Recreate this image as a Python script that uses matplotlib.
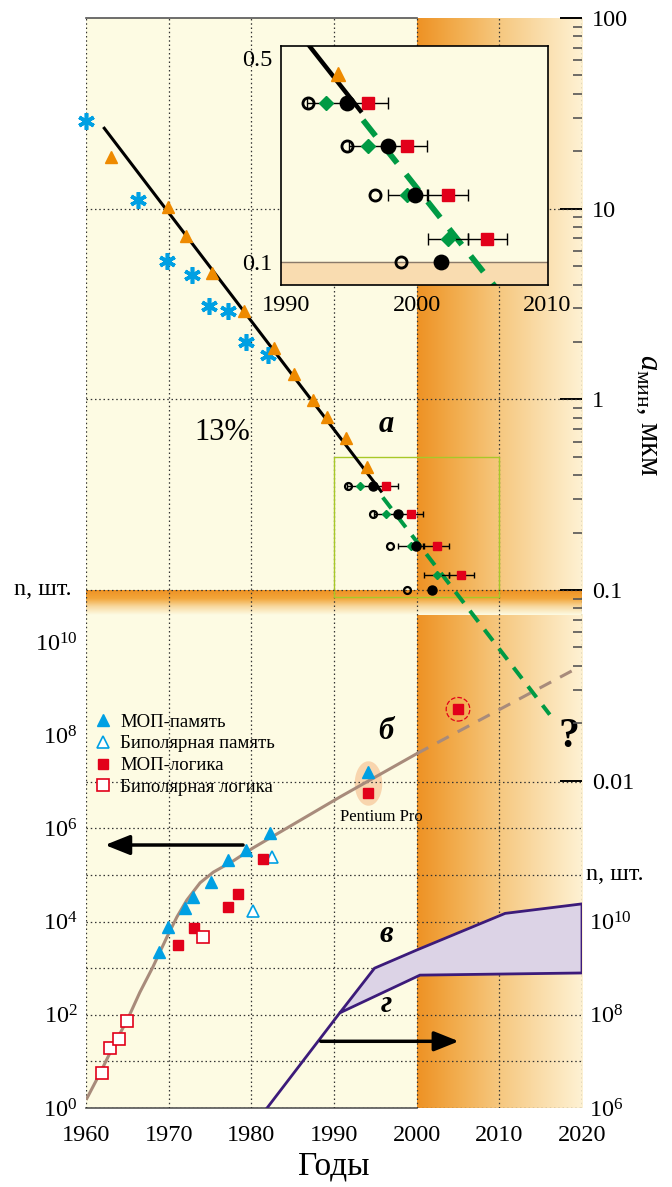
import numpy as np
import matplotlib
matplotlib.use("Agg")
import matplotlib.pyplot as plt
from matplotlib.colors import LinearSegmentedColormap
from matplotlib.patches import Rectangle
from matplotlib.path import Path
from matplotlib.ticker import NullFormatter, NullLocator

plt.rcParams["font.family"] = ["Liberation Serif", "DejaVu Serif"]
plt.rcParams["mathtext.fontset"] = "custom"
plt.rcParams["mathtext.rm"] = "Liberation Serif"
plt.rcParams["mathtext.it"] = "Liberation Serif:italic"
plt.rcParams["mathtext.bf"] = "Liberation Serif:bold"

# ---- (а) минимальный размер элемента, мкм ----
ast_years = [1960.0, 1966.3, 1969.8, 1972.8, 1974.9, 1977.2, 1979.3, 1982.0]
ast_size = [28.8, 11.1, 5.3, 4.5, 3.1, 2.9, 2.0, 1.7]
tri_years = [1963.0, 1969.9, 1972.1, 1975.2, 1979.1, 1982.7, 1985.2,
             1987.4, 1989.1, 1991.4, 1994.0]
tri_size = [18.7, 10.2, 7.2, 4.6, 2.9, 1.86, 1.36, 0.99, 0.81, 0.63, 0.44]
trend_years = [1962.1, 1995.8]
trend_size = [26.8, 0.325]
forecast_years = [1995.9, 2016.1]
forecast_size = [0.306, 0.0222]

open_years = [1991.7, 1994.7, 1996.8, 1998.8]
open_size = [0.35, 0.25, 0.17, 0.10]
diam_years = [1993.1, 1996.3, 1999.3, 2002.4]
diam_size = [0.35, 0.25, 0.17, 0.12]
dot_years = [1994.7, 1997.8, 1999.9, 2001.9]
dot_size = [0.35, 0.25, 0.17, 0.10]
sq_years = [1996.3, 1999.3, 2002.4, 2005.4]
sq_size = [0.35, 0.25, 0.17, 0.12]
year_err = 1.5

# ---- (б) число элементов на кристалле ----
mos_mem_years = [1968.8, 1969.9, 1972.0, 1972.9, 1975.1, 1977.2, 1979.3, 1982.2, 1994.1]
mos_mem_n = [2230, 7600, 19600, 33600, 71000, 2.1e5, 3.4e5, 8.0e5, 1.6e7]
bip_mem_years = [1980.2, 1982.5]
bip_mem_n = [1.7e4, 2.4e5]
mos_log_years = [1971.1, 1973.1, 1977.2, 1978.4, 1981.4, 1994.1, 2005.0]
mos_log_n = [3150, 7300, 20500, 39000, 2.2e5, 5.7e6, 3.6e8]
bip_log_years = [1961.9, 1962.9, 1964.0, 1964.9, 1974.1]
bip_log_n = [5.6, 19.5, 30, 74, 4700]
pentium_year = 1994.1
future_idx = 6

curve_years = [1960.1, 1961.7, 1963.5, 1965.0, 1966.5, 1968.1, 1969.8, 1971.0,
               1972.2, 1973.8, 1975.4, 1977.8, 1980.2, 1990.7, 2000.0]
curve_n = [1.6, 5.6, 25, 78, 300, 1070, 4700, 12600, 29000, 68000, 115000,
           2.0e5, 3.8e5, 4.7e6, 4.0e7]
curve_fc_years = [2000.0, 2019.4]
curve_fc_n = [4.0e7, 2.75e9]

# ---- (в, г) ----
rise_years = [1981.9, 1990.7]
rise_n = [1.0e6, 1.1e8]
upper_years = [1990.7, 1994.9, 2000.0, 2010.7, 2020.0]
upper_n = [1.1e8, 1.0e9, 2.45e9, 1.5e10, 2.4e10]
lower_years = [1990.7, 2000.4, 2020.0]
lower_n = [1.1e8, 7.1e8, 7.9e8]

BG = "#FDFBE3"
BLUE = "#00A0E3"
RED = "#E2001A"
ORANGE = "#EE8A00"
GREEN = "#009A44"
TAN = "#A88B7B"
PURPLE = "#3C1B7A"
DOT = (0, (1.2, 2.2))


def draw_nodes(ax, k):
    ax.errorbar(diam_years, diam_size, xerr=year_err, fmt="none", ecolor="k",
                elinewidth=1, capsize=2.5 * k, zorder=3)
    ax.errorbar(sq_years, sq_size, xerr=year_err, fmt="none", ecolor="k",
                elinewidth=1, capsize=2.5 * k, zorder=3)
    ax.plot(open_years, open_size, "o", ls="none", mfc="none", mec="k",
            ms=5 * k, mew=1.6 * k ** 0.5, zorder=4)
    ax.plot(diam_years, diam_size, "D", ls="none", color=GREEN, ms=4.5 * k, zorder=4)
    ax.plot(dot_years, dot_size, "o", ls="none", color="k", ms=6.5 * k, zorder=5)
    ax.plot(sq_years, sq_size, "s", ls="none", color=RED, ms=5.5 * k, zorder=5)


def draw_trend(ax, lw):
    ax.plot(trend_years, trend_size, color="k", lw=lw, solid_capstyle="butt", zorder=2)
    ax.plot(forecast_years, forecast_size, color=GREEN, lw=lw * 1.3,
            dashes=(3.5, 2.5), zorder=2)


fig = plt.figure(figsize=(6.72, 11.87), dpi=100)
rect = [86 / 672, 79 / 1187, 496 / 672, 1090 / 1187]

# фон
ax_bg = fig.add_axes(rect)
ax_bg.set_facecolor(BG)
band = LinearSegmentedColormap.from_list(
    "band", ["#EE9224", "#F2AE50", "#F6C880", "#FADDAA", "#FEF2D4"])
hband = LinearSegmentedColormap.from_list("hband", [BG, "#F8D9A0", "#F2A63A", "#EE9224"])
grad = np.linspace(0, 1, 256)[None, :]
ax_bg.imshow(grad, cmap=band, extent=[2000, 2020, 0, 0.4523], aspect="auto")
ax_bg.imshow(grad, cmap=band, extent=[2000, 2020, 0.4752, 1], aspect="auto")
ax_bg.imshow(np.linspace(0, 1, 64)[:, None], cmap=hband, origin="lower",
             extent=[1960, 2020, 0.4523, 0.4752], aspect="auto")
ax_bg.plot([1960, 2000], [1, 1], color="#555", lw=1.2, clip_on=False)
ax_bg.plot([1960, 2000], [0, 0], color="#555", lw=1.2, clip_on=False)
ax_bg.set_xlim(1960, 2020)
ax_bg.set_ylim(0, 1)
ax_bg.set_xticks([])
ax_bg.set_yticks([])
for s in ax_bg.spines.values():
    s.set_visible(False)

# (б) левая ось
ax_b = fig.add_axes(rect)
ax_b.patch.set_visible(False)
ax_b.set_yscale("log")
ax_b.set_xlim(1960, 2020)
ax_b.set_ylim(1, 10 ** 23.39)
for s in ax_b.spines.values():
    s.set_visible(False)
ax_b.set_xticks(range(1960, 2021, 10))
ax_b.grid(axis="x", color="#333", ls=DOT, lw=0.9)
ax_b.set_yticks([1, 1e2, 1e4, 1e6, 1e8, 1e10],
                labels=[r"$10^{0}$", r"$10^{2}$", r"$10^{4}$", r"$10^{6}$",
                        r"$10^{8}$", r"$10^{10}$"])
ax_b.yaxis.set_minor_locator(NullLocator())
ax_b.tick_params(axis="x", length=0, pad=12, labelsize=17.5)
ax_b.tick_params(axis="y", length=0, pad=6, labelsize=17.5)
ax_b.hlines([1, 10, 1e2, 1e3, 1e4, 1e5, 1e6, 1e7], 1960, 2020, color="#333", ls=DOT, lw=0.9)
ax_b.set_xlabel("Годы", fontsize=24, labelpad=4)

ellipse = Path(np.column_stack([0.62 * np.cos(np.linspace(0, 2 * np.pi, 60)),
                                np.sin(np.linspace(0, 2 * np.pi, 60))]))
ax_b.plot([pentium_year], [np.sqrt(mos_mem_n[-1] * mos_log_n[-2])], marker=ellipse,
          ms=32, color="#F8D5AE", mec="none", zorder=1)
ax_b.plot(curve_years, curve_n, color=TAN, lw=2.2, zorder=2)
ax_b.plot(curve_fc_years, curve_fc_n, color=TAN, lw=2.2, dashes=(4.3, 3.3), zorder=2)
ax_b.plot(mos_mem_years, mos_mem_n, "^", ls="none", color=BLUE, ms=9, label="МОП-память", zorder=3)
ax_b.plot(bip_mem_years, bip_mem_n, "^", ls="none", mfc="white", mec=BLUE, mew=1.2, ms=9,
          label="Биполярная память", zorder=3)
ax_b.plot(mos_log_years, mos_log_n, "s", ls="none", color=RED, ms=7.5, label="МОП-логика", zorder=3)
ax_b.plot(bip_log_years, bip_log_n, "s", ls="none", mfc="white", mec=RED, mew=1.2, ms=8,
          label="Биполярная логика", zorder=3)
ax_b.scatter([mos_log_years[future_idx]], [mos_log_n[future_idx]], s=17 ** 2, facecolors="none",
             edgecolors=RED, linestyle="--", linewidths=0.9, zorder=3)
ax_b.annotate("", xy=(1962.3, 4.4e5), xytext=(1979.0, 4.4e5),
              arrowprops=dict(arrowstyle="-|>,head_length=0.75,head_width=0.3", lw=2.5,
                              color="k", mutation_scale=20, shrinkA=0, shrinkB=0))
ax_b.legend(loc="upper left", bbox_to_anchor=(0.02, 0.362), frameon=False, fontsize=13.5,
            handlelength=0.8, handletextpad=0.5, labelspacing=0.25, borderpad=0,
            borderaxespad=0, numpoints=1)

# (в, г) правая нижняя ось
ax_c = fig.add_axes(rect)
ax_c.patch.set_visible(False)
ax_c.set_yscale("log")
ax_c.set_xlim(1960, 2020)
ax_c.set_ylim(1e6, 1e6 * 10 ** 23.39)
for s in ax_c.spines.values():
    s.set_visible(False)
ax_c.set_xticks([])
ax_c.yaxis.tick_right()
ax_c.set_yticks([1e6, 1e8, 1e10], labels=[r"$10^{6}$", r"$10^{8}$", r"$10^{10}$"])
ax_c.yaxis.set_minor_locator(NullLocator())
ax_c.tick_params(axis="y", length=0, pad=5, labelsize=17.5)
ax_c.fill(upper_years + lower_years[::-1], upper_n + lower_n[::-1],
          facecolor="#DCD3E6", edgecolor=PURPLE, lw=2, zorder=2)
ax_c.plot(rise_years, rise_n, color=PURPLE, lw=2, zorder=2)
ax_c.annotate("", xy=(2005.1, 2.7e7), xytext=(1988.4, 2.7e7),
              arrowprops=dict(arrowstyle="-|>,head_length=0.75,head_width=0.3", lw=2.5,
                              color="k", mutation_scale=20, shrinkA=0, shrinkB=0))

# (а) правая верхняя ось
ax_a = fig.add_axes(rect)
ax_a.patch.set_visible(False)
ax_a.set_yscale("log")
ax_a.set_xlim(1960, 2020)
ax_a.set_ylim(1.92e-4, 100)
for s in ax_a.spines.values():
    s.set_visible(False)
ax_a.set_xticks([])
ax_a.yaxis.tick_right()
ax_a.set_yticks([100, 10, 1, 0.1, 0.01], labels=["100", "10", "1", "0.1", "0.01"])
ax_a.set_yticks([m * 10.0 ** e for e in (-2, -1, 0, 1) for m in range(2, 10)], minor=True)
ax_a.yaxis.set_minor_formatter(NullFormatter())
ax_a.tick_params(axis="y", which="major", direction="in", length=16, width=1.4,
                 color="k", pad=7, labelsize=17.5)
ax_a.tick_params(axis="y", which="minor", direction="in", length=6.5, width=1.2, color="#555")
ax_a.hlines([10, 1, 0.1], 1960, 2020, color="#333", ls=DOT, lw=0.9)
ax_a.add_patch(Rectangle((1990, 0.092), 20, 0.5 - 0.092, fill=False, ec="#A8C828", lw=1))
draw_trend(ax_a, 2.2)
ax_a.plot(ast_years, ast_size, ls="none", marker=(6, 2, 0), color=BLUE, ms=12, mew=2.6,
          clip_on=False, zorder=3)
ax_a.plot(tri_years, tri_size, "^", ls="none", color=ORANGE, ms=8, zorder=3)
draw_nodes(ax_a, 1)

# подписи
ax_bg.text(1976.5, 0.620, "13%", fontsize=22, ha="center", va="center")
for lab, yy in [("а", 0.627), ("б", 0.345), ("в", 0.159), ("г", 0.0945)]:
    ax_bg.text(1996.3, yy, lab, fontsize=22, fontweight="bold", fontstyle="italic",
               ha="center", va="center", zorder=6)
ax_bg.text(2018.4, 0.340, "?", fontsize=30, fontweight="bold", ha="center", va="center")
ax_bg.text(1995.7, 0.267, "Pentium Pro", fontsize=12, ha="center", va="center")
fig.text(43 / 672, 1 - 590 / 1187, "n, шт.", fontsize=17.5, ha="center", va="center")
fig.text(615 / 672, 1 - 875 / 1187, "n, шт.", fontsize=17.5, ha="center", va="center")
fig.text(648 / 672, 1 - 415 / 1187, r"$a_{\mathrm{мин}}$, мкм", fontsize=22,
         rotation=270, ha="center", va="center")

# врезка
ins = fig.add_axes([281 / 672, 1 - 285 / 1187, 267 / 672, 239 / 1187])
ins.set_facecolor(BG)
ins.set_yscale("log")
ins.set_xlim(1989.62, 2010.06)
ins.set_ylim(0.0834, 0.549)
ins.axhspan(0.0834, 0.1, color="#F9DCB0", zorder=0)
ins.axhline(0.1, color="#8A7A6A", lw=1, zorder=1)
draw_trend(ins, 3.2)
ins.plot(tri_years, tri_size, "^", ls="none", color=ORANGE, ms=10, zorder=3)
draw_nodes(ins, 1.6)
ins.set_xticks([1990, 2000, 2010])
ins.set_yticks([0.5, 0.1], labels=["0.5", "0.1"])
ins.yaxis.set_minor_locator(NullLocator())
ins.tick_params(length=0, labelsize=17.5)
ins.tick_params(axis="x", pad=7)
ins.tick_params(axis="y", pad=6)
for s in ins.spines.values():
    s.set_color("k")
    s.set_linewidth(1.2)

fig.savefig("out.png", dpi=100)
